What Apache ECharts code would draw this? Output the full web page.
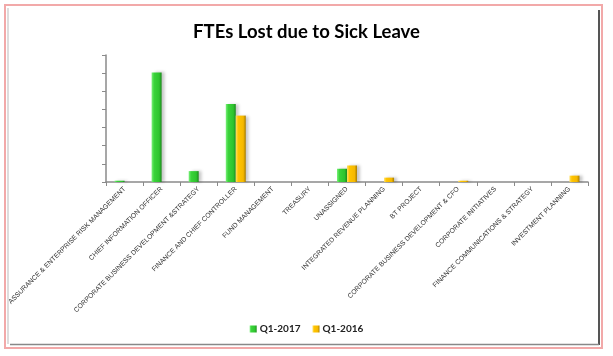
<!DOCTYPE html>
<html><head><meta charset="utf-8">
<script src="https://cdn.jsdelivr.net/npm/echarts@6/dist/echarts.min.js"></script>
<style>html,body{margin:0;padding:0;background:#fff}#c{width:613px;height:356px}</style>
</head><body><div id="c"></div>
<script>
var categories = [
  'ASSURANCE & ENTERPRISE RISK MANAGEMENT',
  'CHIEF INFORMATION OFFICER',
  'CORPORATE BUSINESS DEVELOPMENT &STRATEGY',
  'FINANCE AND CHIEF CONTROLLER',
  'FUND MANAGEMENT',
  'TREASURY',
  'UNASSIGNED',
  'INTEGRATED REVENUE PLANNING',
  'BT PROJECT',
  'CORPORATE BUSINESS DEVELOPMENT & CFO',
  'CORPORATE INITIATIVES',
  'FINANCE COMMUNICATIONS & STRATEGY',
  'INVESTMENT PLANNING'
];
var q12017 = [0.07, 6.04, 0.6, 4.3, 0, 0, 0.73, 0, 0, 0, 0, 0, 0];
var q12016 = [0, 0, 0, 3.66, 0, 0, 0.91, 0.24, 0, 0.07, 0, 0, 0.35];
var seriesNames = ['Q1-2017', 'Q1-2016'];

var chart = echarts.init(document.getElementById('c'), null, {renderer: 'canvas'});
function grad(c) {
  return new echarts.graphic.LinearGradient(0, 0, 1, 0, [
    {offset: 0, color: c[0]}, {offset: 0.25, color: c[1]},
    {offset: 0.75, color: c[2]}, {offset: 1, color: c[3]}
  ]);
}
var green = grad(['#7af07a', '#3ad33a', '#2ec42e', '#1c8a1c']);
var gold = grad(['#ffe066', '#ffc400', '#f5b800', '#a67c00']);
var shadow = {shadowColor: 'rgba(0,0,0,0.22)', shadowOffsetX: 3, shadowOffsetY: 0, shadowBlur: 3};

chart.setOption({
  animation: false,
  title: {
    text: 'FTEs Lost due to Sick Leave', left: 'center', top: 18,
    textStyle: {fontFamily: 'Lato', fontWeight: 'bold', fontSize: 18.5, color: '#000'}
  },
  legend: {
    bottom: 17, left: 'center', itemWidth: 7, itemHeight: 7, itemGap: 12,
    icon: 'rect',
    textStyle: {fontFamily: 'Lato', fontWeight: 'bold', fontSize: 10, color: '#222', padding: [0, 0, 0, -2]},
    data: seriesNames
  },
  grid: {left: 106, right: 25, top: 55, bottom: 174, containLabel: false},
  xAxis: {
    type: 'category', data: categories,
    axisLine: {lineStyle: {color: '#8a8a8a', width: 1.5}},
    axisTick: {show: true, length: 4, lineStyle: {color: '#8a8a8a'}},
    axisLabel: {rotate: 45, interval: 0, fontSize: 6.8, color: '#333', fontFamily: 'Liberation Sans', margin: 6}
  },
  yAxis: {
    type: 'value', min: 0, max: 7, interval: 1,
    axisLine: {show: true, lineStyle: {color: '#8a8a8a', width: 1.5}},
    axisTick: {show: true, length: 4, lineStyle: {color: '#8a8a8a'}},
    axisLabel: {show: false},
    splitLine: {show: false}
  },
  series: [
    {name: seriesNames[0], type: 'bar', data: q12017, barWidth: 10, barGap: '0%',
     itemStyle: Object.assign({color: green}, shadow)},
    {name: seriesNames[1], type: 'bar', data: q12016, barWidth: 10,
     itemStyle: Object.assign({color: gold}, shadow)}
  ],
  graphic: [
    {type: 'rect', shape: {x: 5, y: 5, width: 597, height: 343}, style: {fill: 'none', stroke: '#f2a9a9', lineWidth: 2}, silent: true, z: -1},
    {type: 'line', shape: {x1: 599, y1: 10, x2: 599, y2: 345}, style: {stroke: '#555', lineWidth: 2}, silent: true},
    {type: 'line', shape: {x1: 10, y1: 344.5, x2: 599, y2: 344.5}, style: {stroke: '#888', lineWidth: 1.5}, silent: true},
    {type: 'line', shape: {x1: 8, y1: 8, x2: 8, y2: 344}, style: {stroke: '#bbb', lineWidth: 1}, silent: true}
  ]
});
</script></body></html>
